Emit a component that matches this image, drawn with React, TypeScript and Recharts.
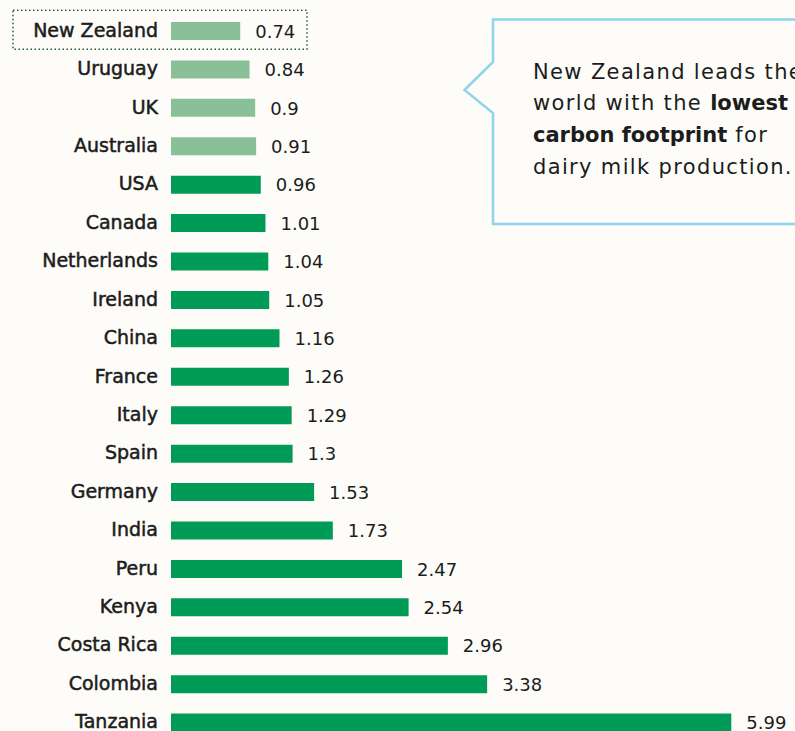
import React from 'react';
import { BarChart, Bar, XAxis, YAxis, Cell, LabelList } from 'recharts';

const countries = [
  'New Zealand', 'Uruguay', 'UK', 'Australia', 'USA', 'Canada', 'Netherlands', 'Ireland',
  'China', 'France', 'Italy', 'Spain', 'Germany', 'India', 'Peru', 'Kenya', 'Costa Rica',
  'Colombia', 'Tanzania',
];
const footprints = [
  0.74, 0.84, 0.9, 0.91, 0.96, 1.01, 1.04, 1.05, 1.16, 1.26, 1.29, 1.3, 1.53, 1.73, 2.47,
  2.54, 2.96, 3.38, 5.99,
];
const leaders = ['New Zealand', 'Uruguay', 'UK', 'Australia'];
const featured = 'New Zealand';
const xDomain: [number, number] = [0, 6.5];

const calloutLines = [
  [{ t: 'New Zealand leads the', b: false }],
  [{ t: 'world with the ', b: false }, { t: 'lowest', b: true }],
  [{ t: 'carbon footprint', b: true }, { t: ' for', b: false }],
  [{ t: 'dairy milk production.', b: false }],
];

const data = countries.map((c, i) => ({ country: c, value: footprints[i] }));

const BG = '#fdfcf8';
const DARK = '#009b56';
const LIGHT = '#89c097';
const INK = '#1c1c1c';
const FONT = '"DejaVu Sans", sans-serif';

const CountryTick = (props: any) => {
  const { x, y, payload } = props;
  const isFeatured = payload.value === featured;
  return (
    <g>
      {isFeatured && (
        <rect
          x={x - 145}
          y={y - 21}
          width={294}
          height={39}
          fill="none"
          stroke="#245e3f"
          strokeWidth={1.5}
          strokeDasharray="1.5 2.5"
        />
      )}
      <text
        x={x}
        y={y}
        dy={5.5}
        textAnchor="end"
        fontFamily={FONT}
        fontWeight={400}
        fontSize={19}
        fill={INK}
        stroke={INK}
        strokeWidth={0.5}
      >
        {payload.value}
      </text>
    </g>
  );
};

const ValueLabel = (props: any) => {
  const { x, y, width, height, value } = props;
  return (
    <text
      x={x + width + 15}
      y={y + height / 2}
      dy={6.7}
      fontFamily={FONT}
      fontSize={18}
      fill={INK}
    >
      {value}
    </text>
  );
};

export default function App() {
  return (
    <div
      style={{
        position: 'absolute',
        left: 0,
        top: 0,
        width: 795,
        height: 731,
        overflow: 'hidden',
        background: BG,
      }}
    >
      <BarChart
        width={795}
        height={745}
        data={data}
        layout="vertical"
        margin={{ top: 12, right: 16, bottom: 3, left: 0 }}
      >
        <XAxis type="number" hide domain={xDomain} />
        <YAxis
          type="category"
          dataKey="country"
          width={171}
          axisLine={false}
          tickLine={false}
          tickSize={8}
          tickMargin={5}
          interval={0}
          tick={<CountryTick />}
        />
        <Bar dataKey="value" barSize={18} isAnimationActive={false}>
          {data.map((d) => (
            <Cell key={d.country} fill={leaders.includes(d.country) ? LIGHT : DARK} />
          ))}
          <LabelList dataKey="value" content={<ValueLabel />} />
        </Bar>
      </BarChart>
      <svg
        width={795}
        height={731}
        style={{ position: 'absolute', left: 0, top: 0, pointerEvents: 'none' }}
      >
        <path
          d="M 800 19.5 L 493 19.5 L 493 62 L 464.5 90 L 493 113 L 493 224 L 800 224"
          fill={BG}
          stroke="#8dd4ec"
          strokeWidth={2.5}
        />
        {calloutLines.map((line, i) => (
          <text
            key={i}
            x={533}
            y={78.5 + i * 31.9}
            fontFamily={FONT}
            fontSize={21}
            fill={INK}
          >
            {line.map((seg, j) => (
              <tspan
                key={j}
                fontWeight={seg.b ? 700 : 400}
                letterSpacing={seg.b ? 0 : 1.35}
              >
                {seg.t}
              </tspan>
            ))}
          </text>
        ))}
      </svg>
    </div>
  );
}
